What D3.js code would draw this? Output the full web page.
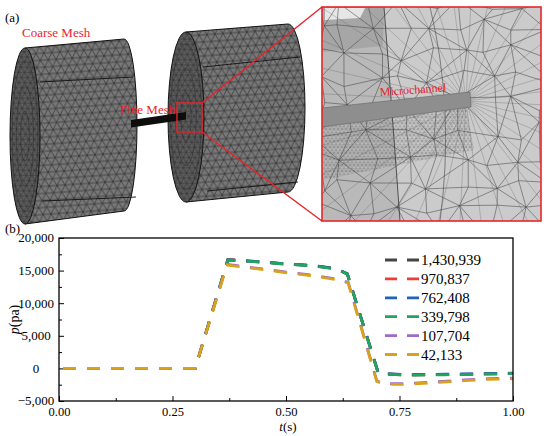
<!DOCTYPE html>
<html>
<head>
<meta charset="utf-8">
<script src="https://cdn.jsdelivr.net/npm/d3@7"></script>
<style>
  body { margin: 0; background: #fff; }
  svg { display: block; }
  svg text { font-family: "Liberation Serif", "Times New Roman", serif !important; }
</style>
</head>
<body>
<div id="chart"></div>
<script>
/* CONSTANTS */
const width = 550, height = 436;
const plot = { left: 59, right: 513, top: 238, bottom: 401 };
const red = "#e8232b";

/* DATA */
const meshNames = ["1,430,939", "970,837", "762,408", "339,798", "107,704", "42,133"];
const meshColors = ["#454545", "#ef3b3b", "#2162bd", "#22a35f", "#9c6ac8", "#d9a21c"];

// fine meshes share one time grid
const tFine = [0, 0.30, 0.372, 0.45, 0.50, 0.56, 0.61, 0.635, 0.703, 0.72, 0.76, 0.85, 1.00];
const pBlack = [0, 0, 16650, 16300, 16000, 15750, 15280, 14500, -650, -850, -1000, -950, -780];
const pRed   = [0, 0, 16700, 16330, 16020, 15770, 15300, 14520, -640, -840, -990, -940, -770];
const pBlue  = [0, 0, 16660, 16320, 16020, 15780, 15300, 14520, -600, -800, -950, -900, -730];
const pGreen = [0, 0, 16620, 16280, 15980, 15730, 15250, 14480, -680, -880, -1030, -980, -800];

// two coarse meshes
const tCoarse = [0, 0.30, 0.370, 0.45, 0.51, 0.565, 0.615, 0.637, 0.700, 0.715, 0.76, 0.836, 0.894, 0.946, 1.00];
const pPurple = [0, 0, 15950, 15250, 14700, 14230, 13660, 13200, -1900, -2350, -2350, -2050, -1780, -1580, -1500];
const pOrange = [0, 0, 15850, 15150, 14600, 14130, 13560, 13100, -2000, -2450, -2450, -2150, -1880, -1680, -1600];

const xMajor = [0, 0.25, 0.5, 0.75, 1];
const xMinor = [0.125, 0.375, 0.625, 0.875];
const yMajor = [-5000, 0, 5000, 10000, 15000, 20000];
const yMinor = [-2500, 2500, 7500, 12500, 17500];

const series = [
  { name: meshNames[0], color: meshColors[0], t: tFine, p: pBlack },
  { name: meshNames[1], color: meshColors[1], t: tFine, p: pRed },
  { name: meshNames[2], color: meshColors[2], t: tFine, p: pBlue },
  { name: meshNames[3], color: meshColors[3], t: tFine, p: pGreen },
  { name: meshNames[4], color: meshColors[4], t: tCoarse, p: pPurple },
  { name: meshNames[5], color: meshColors[5], t: tCoarse, p: pOrange },
];

const svg = d3.select("#chart").append("svg")
  .attr("width", width)
  .attr("height", height);
const defs = svg.append("defs");

/* ---------- (a) mesh illustration ---------- */

// triangle mesh texture for the cylinder bodies
const tri = defs.append("pattern")
  .attr("id", "tri")
  .attr("patternUnits", "userSpaceOnUse")
  .attr("width", 8).attr("height", 14)
  .attr("patternTransform", "rotate(-4)");
tri.append("rect").attr("width", 8).attr("height", 14).attr("fill", "#787878");
tri.append("path")
  .attr("d", "M0,0H8M0,7H8M0,14H8M0,0L4,7L8,0M0,14L4,7L8,14")
  .attr("stroke", "#242424").attr("stroke-width", 0.6).attr("fill", "none");

// same texture, a little darker, for the end faces
const triFace = defs.append("pattern")
  .attr("id", "triFace")
  .attr("patternUnits", "userSpaceOnUse")
  .attr("width", 6).attr("height", 10)
  .attr("patternTransform", "rotate(60)");
triFace.append("rect").attr("width", 6).attr("height", 10).attr("fill", "#5e5e5e");
triFace.append("path")
  .attr("d", "M0,0H6M0,5H6M0,10H6M0,0L3,5L6,0M0,10L3,5L6,10")
  .attr("stroke", "#262626").attr("stroke-width", 0.5).attr("fill", "none");

// finer texture for the refined zone in the close-up
const fine = defs.append("pattern")
  .attr("id", "fine")
  .attr("patternUnits", "userSpaceOnUse")
  .attr("width", 4).attr("height", 6);
fine.append("path")
  .attr("d", "M0,0H4M0,3H4M0,0L2,3L4,0M0,6L2,3L4,6")
  .attr("stroke", "#555").attr("stroke-width", 0.35).attr("fill", "none");

function cylinder(g, a, b, seams) {
  // a = visible (left) face, b = far end
  const body = `M${a.cx},${a.cy - a.ry} L${b.cx},${b.cy - b.ry} ` +
    `A${b.rx},${b.ry} 0 0 1 ${b.cx},${b.cy + b.ry} L${a.cx},${a.cy + a.ry} Z`;
  g.append("path").attr("d", body).attr("fill", "url(#tri)");
  seams.forEach(s => {
    g.append("line")
      .attr("x1", s[0]).attr("y1", s[1]).attr("x2", s[2]).attr("y2", s[3])
      .attr("stroke", "#111").attr("stroke-width", 0.9);
  });
  g.append("path").attr("d", body).attr("fill", "none")
    .attr("stroke", "#111").attr("stroke-width", 1);

  g.append("ellipse")
    .attr("cx", a.cx).attr("cy", a.cy).attr("rx", a.rx).attr("ry", a.ry)
    .attr("fill", "url(#triFace)");
  d3.range(2, 7, 2).forEach(k => {
    g.append("ellipse")
      .attr("cx", a.cx).attr("cy", a.cy)
      .attr("rx", a.rx * k / 7).attr("ry", a.ry * k / 7)
      .attr("fill", "none").attr("stroke", "#2a2a2a").attr("stroke-width", 0.5);
  });
  g.append("ellipse")
    .attr("cx", a.cx).attr("cy", a.cy).attr("rx", a.rx).attr("ry", a.ry)
    .attr("fill", "none").attr("stroke", "#111").attr("stroke-width", 1);
}

const ill = svg.append("g").attr("class", "illustration");

cylinder(ill,
  { cx: 25, cy: 136, rx: 15, ry: 88 },
  { cx: 124, cy: 125, rx: 13, ry: 86 },
  [[40, 82, 133, 77], [43, 201, 136, 197]]);

cylinder(ill,
  { cx: 186, cy: 117, rx: 18, ry: 85 },
  { cx: 288, cy: 108, rx: 17, ry: 84 },
  [[203, 67, 300, 57], [207, 191, 298, 182]]);

// microchannel rod
ill.append("path")
  .attr("d", "M131,120 L186,112 L186,119.5 L131,127.5 Z")
  .attr("fill", "#0d0d0d");

// magnified region marker and leader lines
ill.append("rect")
  .attr("x", 177).attr("y", 103).attr("width", 25).attr("height", 29)
  .attr("fill", "none").attr("stroke", red).attr("stroke-width", 1.4);
ill.append("line").attr("x1", 202).attr("y1", 103).attr("x2", 322).attr("y2", 7)
  .attr("stroke", red).attr("stroke-width", 1.4);
ill.append("line").attr("x1", 202).attr("y1", 132).attr("x2", 322).attr("y2", 221)
  .attr("stroke", red).attr("stroke-width", 1.4);

// close-up view
const zoomBox = { x: 322, y: 7, w: 219, h: 214 };
defs.append("clipPath").attr("id", "zclip")
  .append("rect")
  .attr("x", zoomBox.x).attr("y", zoomBox.y).attr("width", zoomBox.w).attr("height", zoomBox.h);

const zg = ill.append("g").attr("clip-path", "url(#zclip)");
zg.append("rect")
  .attr("x", zoomBox.x).attr("y", zoomBox.y).attr("width", zoomBox.w).attr("height", zoomBox.h)
  .attr("fill", "#cbcbcb");
zg.append("path")
  .attr("d", "M322,7 L384,7 Q392,110 400,221 L322,221 Z")
  .attr("fill", "#b9b9b9");
zg.append("path")
  .attr("d", "M322,7 L384,7 L383,46 L322,52 Z")
  .attr("fill", "#a6a6a6");
zg.append("path")
  .attr("d", "M325,8 L365,8 L360,18 L325,20 Z")
  .attr("fill", "#e6e6e6");
zg.append("path")
  .attr("d", "M322,127 L466,106 L474,150 L322,180 Z")
  .attr("fill", "url(#fine)").attr("opacity", 0.8);

// irregular coarse mesh (seeded jitter, purely decorative)
const rng = d3.randomLcg(0.37);
const jitter = d3.randomUniform.source(rng)(-9, 9);
const cols = d3.range(0, 9), rows = d3.range(0, 10);
const nodes = rows.map(j => cols.map(i => [zoomBox.x - 6 + i * 29 + jitter(), zoomBox.y - 6 + j * 26 + jitter()]));
const meshPath = d3.path();
rows.forEach(j => cols.forEach(i => {
  const p = nodes[j][i];
  if (i + 1 < cols.length) { meshPath.moveTo(p[0], p[1]); meshPath.lineTo(nodes[j][i + 1][0], nodes[j][i + 1][1]); }
  if (j + 1 < rows.length) { meshPath.moveTo(p[0], p[1]); meshPath.lineTo(nodes[j + 1][i][0], nodes[j + 1][i][1]); }
  if (i + 1 < cols.length && j + 1 < rows.length) {
    const q = (i + j) % 2 ? nodes[j + 1][i + 1] : nodes[j + 1][i];
    const s = (i + j) % 2 ? p : nodes[j][i + 1];
    meshPath.moveTo(s[0], s[1]); meshPath.lineTo(q[0], q[1]);
  }
}));
zg.append("path").attr("d", meshPath.toString())
  .attr("fill", "none").attr("stroke", "#3c3c3c").attr("stroke-width", 0.6).attr("opacity", 0.85);

// lines converging on the channel outlet
const outlet = [466, 101];
const fan = d3.path();
d3.range(0, 36).forEach(k => {
  const ang = k * Math.PI * 2 / 36 + 0.05;
  fan.moveTo(outlet[0], outlet[1]);
  fan.lineTo(outlet[0] + 180 * Math.cos(ang), outlet[1] + 180 * Math.sin(ang));
});
zg.append("path").attr("d", fan.toString())
  .attr("fill", "none").attr("stroke", "#555").attr("stroke-width", 0.4).attr("opacity", 0.7);

// curved surface edges
zg.append("path").attr("d", "M384,7 Q392,110 400,221")
  .attr("fill", "none").attr("stroke", "#333").attr("stroke-width", 0.8);
zg.append("path").attr("d", "M430,7 Q455,110 440,221")
  .attr("fill", "none").attr("stroke", "#444").attr("stroke-width", 0.6);

// microchannel band
zg.append("path")
  .attr("d", "M322,108 L470,92 L471,107 L322,127 Z")
  .attr("fill", "#8e8e8e").attr("stroke", "#666").attr("stroke-width", 0.6);

ill.append("rect")
  .attr("x", zoomBox.x).attr("y", zoomBox.y).attr("width", zoomBox.w).attr("height", zoomBox.h)
  .attr("fill", "none").attr("stroke", red).attr("stroke-width", 1.6);

// labels
ill.append("text").attr("x", 5).attr("y", 22).attr("font-size", 13).text("(a)");
ill.append("text").attr("x", 22).attr("y", 37).attr("font-size", 13).attr("fill", red).text("Coarse Mesh");
ill.append("text").attr("x", 120).attr("y", 114).attr("font-size", 13).attr("fill", red).text("Fine Mesh");
ill.append("text")
  .attr("transform", "translate(380,96) rotate(-4)")
  .attr("font-size", 12).attr("fill", red).text("Microchannel");

/* ---------- (b) pressure chart ---------- */

const xScale = d3.scaleLinear().domain([0, 1]).range([plot.left, plot.right]);
const yScale = d3.scaleLinear().domain([-5000, 20000]).range([plot.bottom, plot.top]);

const chart = svg.append("g").attr("class", "chart");

// x axis (ticks point inward)
chart.append("g")
  .attr("transform", `translate(0,${plot.bottom})`)
  .call(d3.axisBottom(xScale).tickValues(xMinor).tickSize(-3).tickFormat(""))
  .call(g => g.select(".domain").remove());
chart.append("g")
  .attr("class", "x-axis")
  .attr("transform", `translate(0,${plot.bottom})`)
  .call(d3.axisBottom(xScale).tickValues(xMajor).tickSize(-5).tickFormat(d3.format(".2f")))
  .call(g => g.select(".domain").remove())
  .call(g => g.selectAll("text").attr("y", 6.5).attr("font-size", 12.5).attr("fill", "#000"));

// y axis
chart.append("g")
  .attr("transform", `translate(${plot.left},0)`)
  .call(d3.axisLeft(yScale).tickValues(yMinor).tickSize(-3).tickFormat(""))
  .call(g => g.select(".domain").remove());
chart.append("g")
  .attr("class", "y-axis")
  .attr("transform", `translate(${plot.left},0)`)
  .call(d3.axisLeft(yScale).tickValues(yMajor).tickSize(-5).tickFormat(d3.format(",")))
  .call(g => g.select(".domain").remove())
  .call(g => g.selectAll("text").attr("x", -23).attr("dy", "0.3em").attr("text-anchor", "middle")
    .attr("font-size", 13).attr("fill", "#000"));

chart.selectAll(".tick line").attr("stroke", "#000").attr("stroke-width", 1);

// lines
const lineFunc = d3.line()
  .x(d => xScale(d[0]))
  .y(d => yScale(d[1]));

chart.selectAll(".line")
  .data(series)
  .join("path")
  .attr("class", "line")
  .attr("fill", "none")
  .attr("stroke", d => d.color)
  .attr("stroke-width", 2.8)
  .attr("stroke-dasharray", "13,11")
  .attr("stroke-dashoffset", -4)
  .attr("d", d => lineFunc(d.t.map((t, i) => [t, d.p[i]])));

// frame
chart.append("rect")
  .attr("x", plot.left).attr("y", plot.top)
  .attr("width", plot.right - plot.left).attr("height", plot.bottom - plot.top)
  .attr("fill", "none").attr("stroke", "#000").attr("stroke-width", 1.3);

// legend
const legend = chart.append("g").attr("class", "legend");
const legendRow = legend.selectAll("g")
  .data(series)
  .join("g")
  .attr("transform", (d, i) => `translate(385,${260 + i * 18.9})`);
legendRow.append("line")
  .attr("x1", 0).attr("x2", 34)
  .attr("stroke", d => d.color).attr("stroke-width", 2.8)
  .attr("stroke-dasharray", "12,10");
legendRow.append("text")
  .attr("x", 36).attr("dy", "0.35em")
  .attr("font-size", 15)
  .text(d => d.name);

// axis titles and panel label
chart.append("text")
  .attr("x", 288).attr("y", 431)
  .attr("text-anchor", "middle").attr("font-size", 13)
  .call(t => { t.append("tspan").attr("font-style", "italic").text("t"); t.append("tspan").text("(s)"); });
chart.append("text")
  .attr("transform", `translate(19,${(plot.top + plot.bottom) / 2}) rotate(-90)`)
  .attr("text-anchor", "middle").attr("font-size", 14)
  .call(t => { t.append("tspan").attr("font-style", "italic").text("p"); t.append("tspan").text("(pa)"); });
chart.append("text").attr("x", 5).attr("y", 233).attr("font-size", 13).text("(b)");
</script>
</body>
</html>
